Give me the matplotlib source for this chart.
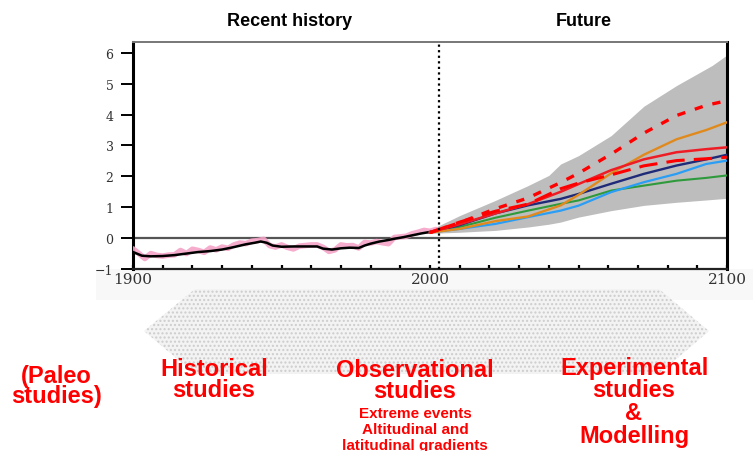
import matplotlib
matplotlib.use("Agg")
import matplotlib.pyplot as plt
from matplotlib.patches import Polygon, Rectangle
from matplotlib.ticker import MultipleLocator, FixedLocator

# ---------------- data ----------------
obs_years = [1900, 1902, 1904, 1906, 1908, 1910, 1912, 1914, 1916, 1918, 1920, 1922, 1924,
             1926, 1928, 1930, 1932, 1934, 1936, 1938, 1940, 1942, 1944, 1946, 1948, 1950,
             1952, 1954, 1956, 1958, 1960, 1962, 1964, 1966, 1968, 1970, 1972, 1974, 1976,
             1978, 1980, 1982, 1984, 1986, 1988, 1990, 1992, 1994, 1996, 1998, 2000, 2002]
obs_values = [-0.35, -0.50, -0.66, -0.50, -0.56, -0.58, -0.55, -0.54, -0.40, -0.50, -0.36, -0.40,
              -0.46, -0.32, -0.38, -0.29, -0.33, -0.22, -0.16, -0.18, -0.10, -0.08, -0.04, -0.24,
              -0.29, -0.22, -0.30, -0.35, -0.26, -0.24, -0.22, -0.22, -0.30, -0.43, -0.38, -0.22,
              -0.25, -0.24, -0.32, -0.14, -0.16, -0.11, -0.15, -0.18, 0.02, 0.04, 0.06, 0.14,
              0.19, 0.25, 0.22, 0.28]

smooth_years = [1900, 1903, 1906, 1910, 1914, 1918, 1922, 1926, 1930, 1934, 1938, 1941, 1943,
                1945, 1947, 1950, 1954, 1958, 1962, 1964, 1967, 1970, 1973, 1976, 1978, 1980,
                1983, 1986, 1988, 1991, 1994, 1997, 2000]
smooth_values = [-0.45, -0.57, -0.59, -0.58, -0.55, -0.50, -0.45, -0.42, -0.37, -0.29, -0.20,
                 -0.15, -0.11, -0.15, -0.24, -0.28, -0.27, -0.27, -0.27, -0.34, -0.37, -0.33,
                 -0.31, -0.32, -0.24, -0.18, -0.11, -0.06, -0.02, 0.03, 0.09, 0.15, 0.20]

band_years = [1999, 2010, 2022, 2033, 2040, 2044, 2050, 2061, 2072, 2083, 2095, 2100]
band_upper = [0.22, 0.73, 1.22, 1.70, 2.03, 2.40, 2.67, 3.32, 4.27, 4.94, 5.59, 5.93]
band_lower = [0.15, 0.19, 0.25, 0.36, 0.45, 0.52, 0.68, 0.89, 1.06, 1.16, 1.25, 1.29]

fut_years = [2000, 2010, 2022, 2033, 2044, 2050, 2061, 2072, 2083, 2093, 2100]
green = [0.18, 0.36, 0.66, 0.89, 1.11, 1.22, 1.54, 1.70, 1.86, 1.95, 2.03]
light_blue = [0.18, 0.30, 0.46, 0.68, 0.89, 1.05, 1.49, 1.81, 2.08, 2.40, 2.51]
navy = [0.18, 0.42, 0.80, 1.06, 1.27, 1.43, 1.76, 2.08, 2.35, 2.55, 2.70]
orange = [0.18, 0.30, 0.55, 0.70, 1.06, 1.40, 2.10, 2.70, 3.20, 3.50, 3.75]
red_solid = [0.18, 0.45, 0.80, 1.10, 1.50, 1.75, 2.20, 2.55, 2.78, 2.88, 2.94]
red_dashed = [0.18, 0.52, 0.87, 1.10, 1.60, 1.78, 2.05, 2.34, 2.51, 2.57, 2.62]
red_dotted = [0.18, 0.50, 0.95, 1.30, 1.80, 2.10, 2.72, 3.40, 3.97, 4.30, 4.45]

present_year = 2003
x_major = [1900, 2000, 2100]
x_labels = ["1900", "2000", "2100"]
y_ticks = [-1, 0, 1, 2, 3, 4, 5, 6]

# ---------------- figure ----------------
W, H = 753, 452
fig = plt.figure(figsize=(W / 100, H / 100), dpi=100)
fig.patch.set_facecolor("white")

def fx(px):
    return px / W

def fy(py):
    return 1 - py / H

ax = fig.add_axes([fx(133), fy(270), (727 - 133) / W, (270 - 43) / H])
ax.set_xlim(1900, 2100)
ax.set_ylim(-1, 6.35)

ax.fill_between(band_years, band_lower, band_upper, color="#bdbdbd", lw=0, zorder=1)
ax.axhline(0, color="#555555", lw=1.6, zorder=2)
ax.axvline(present_year, color="black", lw=1.6, ls=(0, (1, 1.5)), zorder=6)

ax.plot(obs_years, obs_values, color="#f5a3c7", lw=4, alpha=0.9, solid_capstyle="round", zorder=3)
ax.plot(smooth_years, smooth_values, color="black", lw=1.8, zorder=4)

ax.plot(fut_years, green, color="#2e9a3c", lw=1.5, zorder=4)
ax.plot(fut_years, light_blue, color="#2a9df4", lw=1.6, zorder=4)
ax.plot(fut_years, navy, color="#1f2a78", lw=1.7, zorder=4)
ax.plot(fut_years, orange, color="#e08a1e", lw=1.7, zorder=4)
ax.plot(fut_years, red_solid, color="#ee1c24", lw=1.8, zorder=5)
ax.plot(fut_years, red_dashed, color="#ff0000", lw=2.2, ls=(0, (6, 3)), zorder=5)
ax.plot(fut_years, red_dotted, color="#ff0000", lw=2.4, ls=(0, (2.5, 3)), zorder=5)

# spines and ticks
for side in ["left", "right"]:
    ax.spines[side].set_linewidth(2.2)
    ax.spines[side].set_color("black")
ax.spines["bottom"].set_linewidth(1.6)
ax.spines["bottom"].set_color("#222222")
ax.spines["top"].set_linewidth(1.4)
ax.spines["top"].set_color("#777777")

ax.xaxis.set_major_locator(FixedLocator(x_major))
ax.set_xticklabels(x_labels)
ax.xaxis.set_minor_locator(MultipleLocator(10))
ax.tick_params(axis="x", which="both", direction="in", length=3, width=1.6, pad=2,
               labelsize=11, labelcolor="#333333")
ax.set_yticks(y_ticks)
ax.set_yticklabels(["\u22121" if v == -1 else str(v) for v in y_ticks])
ax.tick_params(axis="y", which="major", direction="out", length=9, width=1.4, pad=5,
               labelsize=9, labelcolor="#333333")
for lab in ax.get_xticklabels() + ax.get_yticklabels():
    lab.set_family("DejaVu Serif")

# faint strip behind x labels
fig.add_artist(Rectangle((fx(96), fy(301)), 1 - fx(96), (301 - 270) / H,
                         transform=fig.transFigure, facecolor="#f8f8f8", edgecolor="none", zorder=0))

# double arrow (dotted texture)
arrow_pts = [(144, 332), (195, 290), (659, 290), (709, 332), (659, 375), (195, 375)]
poly = Polygon([(fx(x), fy(y)) for x, y in arrow_pts], closed=True, transform=fig.transFigure,
               facecolor="#f3f3f3", edgecolor="#cdcdcd", hatch="....", lw=0, zorder=1)
fig.add_artist(poly)

# texts
sans = ["Liberation Sans", "DejaVu Sans"]

def ftext(x, y, s, size, color="red", **kw):
    fig.text(fx(x), fy(y), s, ha="center", va="baseline", fontsize=size,
             fontweight="bold", color=color, family=sans, **kw)

ftext(290, 26, "Recent history", 13, color="black")
ftext(584, 26, "Future", 13, color="black")

ftext(56, 403, "(Paleo\nstudies)", 17, multialignment="center", linespacing=0.86)

ftext(214, 376, "Historical", 17)
ftext(214, 397, "studies", 17)

ftext(415, 377, "Observational", 17)
ftext(415, 398, "studies", 17)
ftext(415, 418, "Extreme events", 11)
ftext(415, 434, "Altitudinal and", 11)
ftext(415, 450, "latitudinal gradients", 11)

ftext(634, 375, "Experimental", 17)
ftext(634, 397, "studies", 17)
ftext(634, 420, "&", 17)
ftext(634, 443, "Modelling", 17)

fig.savefig("out.png", dpi=100)
